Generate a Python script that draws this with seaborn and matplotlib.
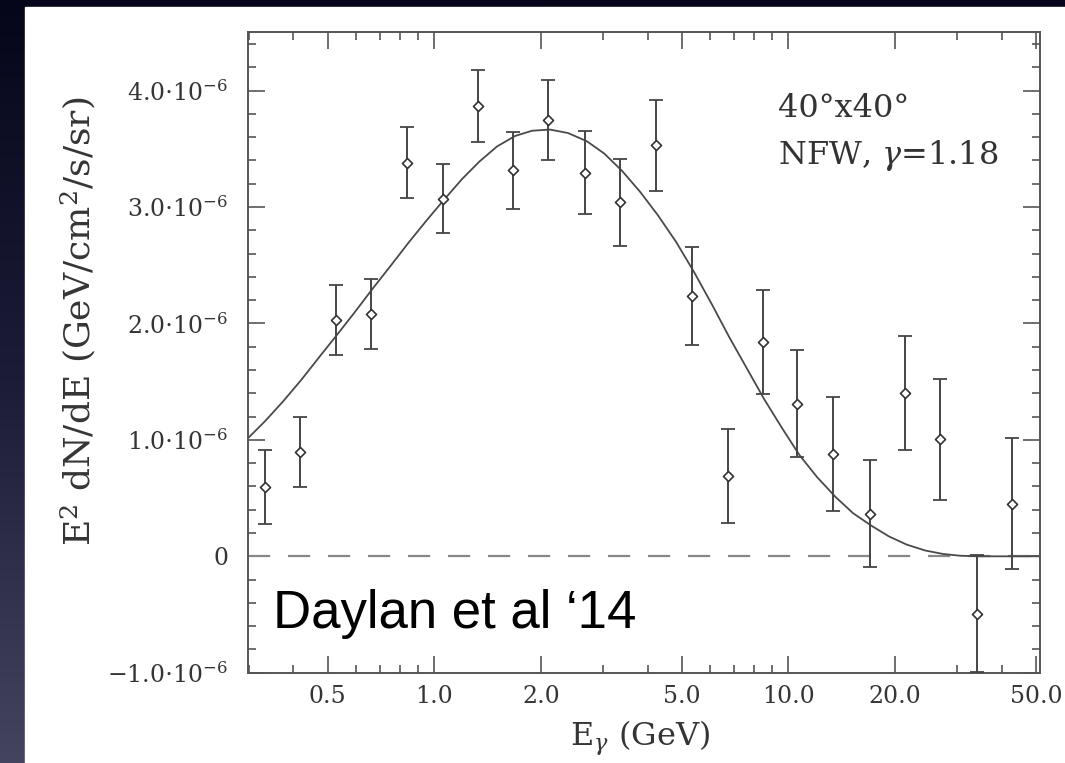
import numpy as np
import matplotlib
matplotlib.use("Agg")
import matplotlib.pyplot as plt
from matplotlib.patches import Rectangle
from matplotlib.ticker import FixedLocator, FixedFormatter
import seaborn as sns

# binned spectrum (E in GeV, flux in units of 1e-6 GeV/cm^2/s/sr)
energy = [0.332, 0.418, 0.528, 0.663, 0.839, 1.058, 1.326, 1.672, 2.10, 2.666, 3.35,
          4.23, 5.35, 6.74, 8.45, 10.6, 13.4, 17.0, 21.4, 26.8, 34.0, 42.7]
flux = [0.595, 0.896, 2.033, 2.079, 3.379, 3.073, 3.869, 3.316, 3.746, 3.296, 3.039,
        3.531, 2.234, 0.690, 1.841, 1.312, 0.882, 0.367, 1.406, 1.005, -0.492, 0.453]
flux_err = [0.32, 0.30, 0.30, 0.30, 0.305, 0.30, 0.31, 0.33, 0.345, 0.36, 0.37,
            0.39, 0.42, 0.40, 0.45, 0.46, 0.49, 0.46, 0.49, 0.52, 0.50, 0.56]

# best-fit spectrum
model_e = [0.2966, 0.3323, 0.3737, 0.4220, 0.4755, 0.5334, 0.5970, 0.6699, 0.7546, 0.8484,
           0.9537, 1.070, 1.197, 1.340, 1.503, 1.690, 1.888, 2.123, 2.386, 2.695, 3.016,
           3.390, 3.812, 4.277, 4.817, 5.416, 6.088, 6.812, 7.643, 8.540, 9.598, 10.74,
           12.05, 13.58, 15.23, 17.21, 19.25, 21.60, 24.33, 27.35, 30.55, 34.35, 51.25]
model_flux = [1.01, 1.16, 1.33, 1.52, 1.72, 1.91, 2.10, 2.30, 2.50, 2.70,
              2.89, 3.07, 3.24, 3.39, 3.52, 3.61, 3.655, 3.665, 3.635, 3.565, 3.46,
              3.31, 3.13, 2.93, 2.70, 2.44, 2.16, 1.88, 1.61, 1.35, 1.10, 0.87,
              0.68, 0.51, 0.37, 0.26, 0.17, 0.10, 0.05, 0.02, 0.005, 0.0, 0.0]

xticks = [0.5, 1, 2, 5, 10, 20, 50]
xticklabels = ["0.5", "1.0", "2.0", "5.0", "10.0", "20.0", "50.0"]
xminor = [0.3, 0.4, 0.6, 0.7, 0.8, 0.9, 3, 4, 6, 7, 8, 9, 30, 40]
yticks = [-1, 0, 1, 2, 3, 4]
yticklabels = [r"$-1.0{\cdot}10^{-6}$", "0", r"$1.0{\cdot}10^{-6}$", r"$2.0{\cdot}10^{-6}$",
               r"$3.0{\cdot}10^{-6}$", r"$4.0{\cdot}10^{-6}$"]

sns.set_theme(style="ticks")
plt.rcParams["font.family"] = ["DejaVu Serif"]
plt.rcParams["mathtext.fontset"] = "dejavuserif"

txt = "#353535"
fig = plt.figure(figsize=(10.65, 7.63), dpi=100)

# slide background: dark gradient strip on the left / top, white page
bg = fig.add_axes([0, 0, 1, 1], zorder=-10)
grad = np.linspace(0, 1, 256)[:, None]
bg.imshow(grad, aspect="auto", cmap=matplotlib.colors.LinearSegmentedColormap.from_list(
    "slide", ["#06061a", "#1c1c38", "#44445f"]), extent=[0, 1, 0, 1], origin="upper")
bg.add_patch(Rectangle((25 / 1065, 0), 1, 1 - 7 / 763, color="white", transform=bg.transAxes))
bg.set_xlim(0, 1)
bg.set_ylim(0, 1)
bg.axis("off")

ax = fig.add_axes([0.2324, 0.1183, 0.7437, 0.8393])
ax.set_facecolor("white")

ax.axhline(0, color="#888888", lw=1.6, ls=(0, (10, 8)), zorder=1)
sns.lineplot(x=model_e, y=model_flux, ax=ax, sort=False, estimator=None,
             color="#4a4a4a", lw=1.3, zorder=2)
ax.errorbar(energy, flux, yerr=flux_err, fmt="none", ecolor="#454545",
            elinewidth=1.4, capsize=5, capthick=1.3, zorder=3)
sns.scatterplot(x=energy, y=flux, ax=ax, marker="D", s=26, facecolor="white",
                edgecolor="#333333", linewidth=1.2, zorder=4)

ax.set_xscale("log")
ax.set_xlim(0.2966, 51.2)
ax.set_ylim(-1.0, 4.5)

ax.xaxis.set_major_locator(FixedLocator(xticks))
ax.xaxis.set_major_formatter(FixedFormatter(xticklabels))
ax.xaxis.set_minor_locator(FixedLocator(xminor))
ax.xaxis.set_minor_formatter(FixedFormatter([""] * len(xminor)))
ax.yaxis.set_major_locator(FixedLocator(yticks))
ax.yaxis.set_major_formatter(FixedFormatter(yticklabels))
ax.yaxis.set_minor_locator(FixedLocator(np.arange(-1.0, 4.51, 0.2)))

for s in ax.spines.values():
    s.set_color("#555555")
    s.set_linewidth(1.4)
    s.set_visible(True)
ax.tick_params(which="both", direction="in", top=True, right=True, color="#555555", width=1.2)
ax.tick_params(which="major", length=12)
ax.tick_params(which="minor", length=5.5)
ax.tick_params(axis="x", which="major", pad=9, labelsize=17, labelcolor=txt)
ax.tick_params(axis="y", which="major", pad=14, labelsize=17, labelcolor=txt)

ax.set_xlabel(r"E$_\gamma$ (GeV)", fontsize=23, color=txt)
ax.set_ylabel(r"E$^2$ dN/dE (GeV/cm$^2$/s/sr)", fontsize=26, color=txt)
ax.xaxis.set_label_coords(0.4956, -0.072)
ax.yaxis.set_label_coords(-0.189, 0.549)

fig.text(778 / 1065, 1 - 117 / 763, "40°x40°", fontsize=23, color="#333333")
fig.text(778 / 1065, 1 - 164 / 763, r"NFW, $\gamma$=1.18", fontsize=23, color="#333333")
fig.text(273 / 1065, 1 - 628 / 763, "Daylan et al \u201814", fontsize=38, color="black",
         family=["Liberation Sans", "DejaVu Sans"])

fig.savefig("out.png", dpi=100)
